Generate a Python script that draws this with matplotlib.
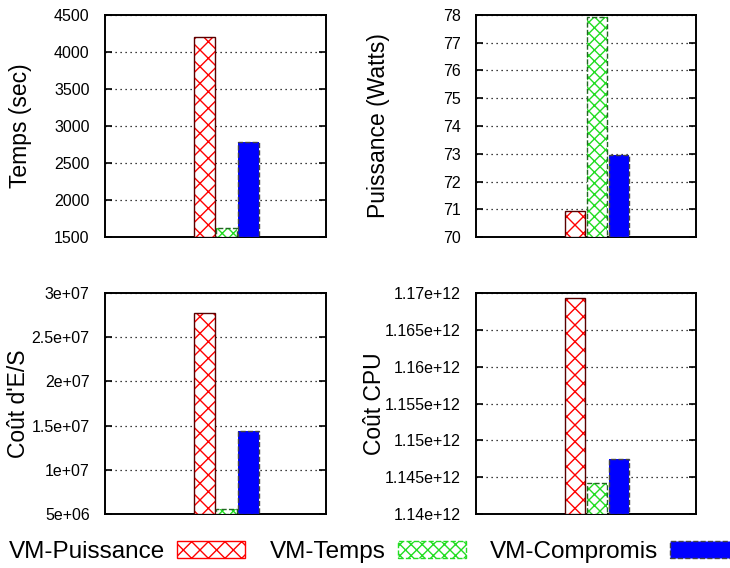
import matplotlib
matplotlib.use("Agg")
import matplotlib.pyplot as plt
from matplotlib.patches import Patch
from matplotlib.ticker import FormatStrFormatter, MultipleLocator

plt.rcParams['font.family'] = ['Liberation Sans', 'DejaVu Sans']
plt.rcParams['hatch.linewidth'] = 1.0

series = ["VM-Puissance", "VM-Temps", "VM-Compromis"]
temps = [4200, 1625, 2780]
puissance = [70.93, 77.93, 72.95]
cout_es = [2.775e7, 5.55e6, 1.4375e7]
cout_cpu = [1.16932e12, 1.14417e12, 1.14748e12]

panels = [
    ("Temps (sec)", temps, (1500, 4500), 500),
    ("Puissance (Watts)", puissance, (70, 78), 1),
    ("Coût d'E/S", cout_es, (5e6, 3e7), 5e6),
    ("Coût CPU", cout_cpu, (1.14e12, 1.17e12), 5e9),
]

# face, hatch, hatch color, outline, outline style
styles = [
    ("white", "xx", "red", "#5a0000", "-"),
    ("white", "xxx", "#22dd22", "#226622", "--"),
    ("blue", "", "blue", "#444444", "--"),
]

fig = plt.figure(figsize=(7.3, 5.68), dpi=100)
rects = [
    [0.1438, 0.5827, 0.3027, 0.391],
    [0.652, 0.5827, 0.3014, 0.391],
    [0.1438, 0.0951, 0.3027, 0.389],
    [0.652, 0.0951, 0.3014, 0.389],
]
label_x = [-0.33, -0.39, -0.34, -0.41]

width = 0.19
for (ylabel, vals, ylim, step), rect, lx in zip(panels, rects, label_x):
    ax = fig.add_axes(rect)
    for i, v in enumerate(vals):
        face, hatch, hcol, ecol, ls = styles[i]
        x = (i - 1) * 0.2
        ax.bar(x, v - ylim[0], width, bottom=ylim[0], color=face,
               hatch=hatch, edgecolor=hcol, linewidth=0, zorder=3)
        ax.bar(x, v - ylim[0], width, bottom=ylim[0], fill=False,
               edgecolor=ecol, linewidth=1.0, linestyle=ls, zorder=4)
    ax.set_xlim(-1.1, 0.9)
    ax.set_ylim(*ylim)
    ax.yaxis.set_major_locator(MultipleLocator(step))
    ax.yaxis.set_major_formatter(FormatStrFormatter('%g'))
    ax.set_xticks([])
    ax.tick_params(axis='y', direction='in', right=True, length=5,
                   width=1.2, labelsize=11.5, pad=11)
    ax.grid(axis='y', color='black', linestyle=(0, (1, 3)), linewidth=0.9, zorder=1)
    for sp in ax.spines.values():
        sp.set_linewidth(1.4)
    ax.set_ylabel(ylabel, fontsize=16.5)
    ax.yaxis.set_label_coords(lx, 0.5)

handles = []
for face, hatch, hcol, ecol, ls in styles:
    edge = hcol if face == "white" else ecol
    handles.append(Patch(facecolor=face, hatch=hatch, edgecolor=edge,
                         linestyle=ls, linewidth=1.0))

fig.legend(handles, series, loc='center left', bbox_to_anchor=(0.012, 0.028),
           ncol=3, frameon=False, markerfirst=False, fontsize=17.5,
           handlelength=2.8, handleheight=0.65, handletextpad=0.5,
           columnspacing=1.0, borderpad=0, borderaxespad=0)

fig.savefig("out.png", dpi=100)
